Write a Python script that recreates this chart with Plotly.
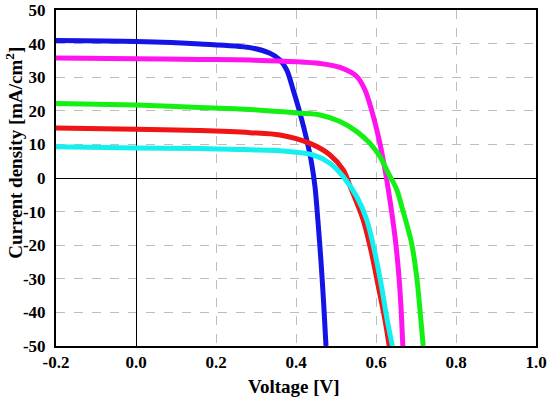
import plotly.graph_objects as go

# Voltage [V] and current density [mA/cm^2]
blue_x = [-0.2, 0.0, 0.16, 0.285, 0.335, 0.36, 0.377, 0.393, 0.41, 0.427, 0.439, 0.4475, 0.455, 0.462, 0.469, 0.475]
blue_y = [40.9, 40.6, 39.9, 38.8, 37.1, 35.1, 32.1, 26.2, 19.3, 11.3, 4.4, -2.6, -13.0, -24.0, -37.0, -50.0]

magenta_x = [-0.2, 0.0, 0.16, 0.285, 0.46, 0.51, 0.552, 0.5725, 0.589, 0.606, 0.618, 0.631, 0.6475, 0.656, 0.662, 0.667]
magenta_y = [35.7, 35.5, 35.3, 35.1, 34.1, 32.9, 30.2, 26.2, 20.2, 12.3, 5.4, -3.6, -17.5, -27.4, -37.3, -50.0]

green_x = [-0.2, 0.0, 0.16, 0.285, 0.41, 0.46, 0.51, 0.552, 0.585, 0.61, 0.631, 0.651, 0.668, 0.689, 0.7017, 0.71, 0.718]
green_y = [22.2, 21.7, 21.0, 20.4, 19.3, 18.75, 16.8, 13.8, 10.3, 6.35, 1.4, -3.2, -10.0, -19.4, -29.4, -39.3, -50.0]

red_x = [-0.2, 0.0, 0.16, 0.285, 0.36, 0.435, 0.485, 0.518, 0.537, 0.568, 0.589, 0.606, 0.6225, 0.633]
red_y = [14.9, 14.5, 14.1, 13.5, 12.8, 10.3, 6.85, 2.4, -3.0, -12.5, -22.4, -32.4, -42.3, -50.0]

cyan_x = [-0.2, 0.0, 0.16, 0.285, 0.36, 0.443, 0.485, 0.518, 0.552, 0.577, 0.5975, 0.614, 0.628, 0.641]
cyan_y = [9.3, 8.9, 8.8, 8.4, 8.1, 6.85, 4.4, 0.4, -5.6, -12.5, -22.4, -32.4, -42.3, -50.0]

x_ticks = [-0.2, 0.0, 0.2, 0.4, 0.6, 0.8, 1.0]
x_tick_labels = ["-0.2", "0.0", "0.2", "0.4", "0.6", "0.8", "1.0"]
y_ticks = [-50, -40, -30, -20, -10, 0, 10, 20, 30, 40, 50]

x_title = "Voltage [V]"
y_title = "Current density [mA/cm<sup>2</sup>]"

series = [
    (blue_x, blue_y, "#1414E6"),
    (magenta_x, magenta_y, "#FF14F0"),
    (green_x, green_y, "#14F014"),
    (red_x, red_y, "#F01414"),
    (cyan_x, cyan_y, "#14F0F0"),
]

fig = go.Figure()
for xs, ys, col in series:
    fig.add_trace(go.Scatter(x=xs, y=ys, mode="lines",
                             line=dict(color=col, width=5, shape="spline", smoothing=0.9),
                             showlegend=False, cliponaxis=True, hoverinfo="skip"))

fnt = dict(family="Liberation Serif", size=17, color="black")
title_fnt = dict(family="Liberation Serif", size=19, color="black")

axis_common = dict(
    showgrid=True, gridcolor="#BDBDBD", griddash="dash", gridwidth=1,
    zeroline=True, zerolinecolor="black", zerolinewidth=1,
    showline=True, linecolor="black", linewidth=2, mirror=True,
    ticks="", automargin=False, tickfont=fnt,
)

fig.update_layout(
    width=557, height=398,
    margin=dict(l=56, r=21, t=10, b=52),
    paper_bgcolor="white", plot_bgcolor="white",
    font=fnt,
    xaxis=dict(range=[-0.2, 1.0], tickvals=x_ticks,
               ticktext=["<b>%s</b>" % t for t in x_tick_labels],
               ticklabelstandoff=0, **axis_common),
    yaxis=dict(range=[-50, 50], tickvals=y_ticks,
               ticktext=["<b>%d</b>" % t for t in y_ticks],
               ticklabelstandoff=5, **axis_common),
    annotations=[
        dict(text="<b>%s</b>" % x_title, xref="paper", yref="paper",
             x=0.496, y=0, yshift=-28, xanchor="center", yanchor="top",
             showarrow=False, font=title_fnt),
        dict(text="<b>%s</b>" % y_title, xref="paper", yref="paper",
             x=0, xshift=-28, y=0.575, xanchor="right", yanchor="middle",
             textangle=-90, showarrow=False, font=title_fnt),
    ],
)

# remove the default 8px page margin so the figure fills the window exactly
fig.write_html("out.html", config={"displayModeBar": False},
               post_script="document.body.style.margin='0px';document.body.style.overflow='hidden';")
